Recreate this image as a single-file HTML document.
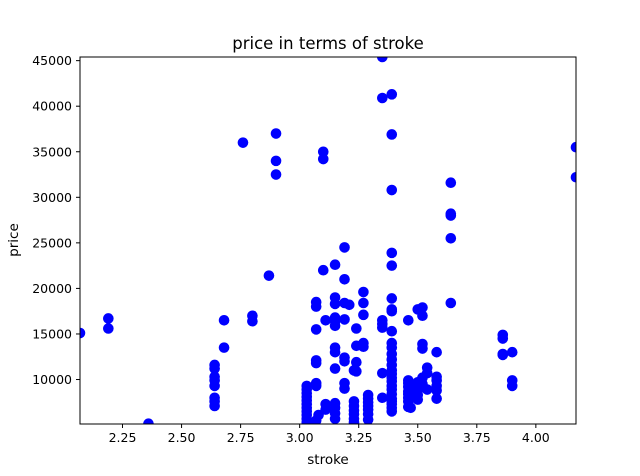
<!DOCTYPE html>
<html><head><meta charset="utf-8"><style>
html,body{margin:0;padding:0;background:#fff;}
svg{display:block;font-family:"DejaVu Sans","Liberation Sans",sans-serif;}
</style></head><body>
<svg id="chart" width="640" height="476" viewBox="0 0 640 476">
<defs><clipPath id="clip"><rect x="80" y="57" width="496" height="367"/></clipPath></defs>
<rect x="0" y="0" width="640" height="476" fill="#fff"/>
<text x="328" y="49" font-size="16.5" text-anchor="middle" fill="#000">price in terms of stroke</text>
<g id="points" clip-path="url(#clip)"></g>
<g id="axes"></g>
<rect x="80" y="57" width="496" height="367" fill="none" stroke="#000" stroke-width="1"/>
<text x="328" y="464" font-size="13.5" text-anchor="middle">stroke</text>
<text x="18" y="240" font-size="13.5" text-anchor="middle" transform="rotate(-90 18 240)">price</text>
</svg>
<script>
const xTicks = [2.25, 2.50, 2.75, 3.00, 3.25, 3.50, 3.75, 4.00];
const xTickLabels = ["2.25","2.50","2.75","3.00","3.25","3.50","3.75","4.00"];
const yTicks = [10000, 15000, 20000, 25000, 30000, 35000, 40000, 45000];
const yTickLabels = ["10000","15000","20000","25000","30000","35000","40000","45000"];
const strokes = [
2.07,2.19,2.19,2.36,
2.64,2.64,2.64,2.64,2.64,2.64,2.64,2.64,
2.68,2.68,2.76,2.80,2.80,2.87,2.90,2.90,2.90,
3.03,3.03,3.03,3.03,3.03,3.03,3.03,3.03,3.03,3.03,3.03,
3.07,3.07,3.07,3.07,3.07,3.07,3.07,3.07,3.08,
3.10,3.10,3.10,3.11,3.11,3.11,
3.15,3.15,3.15,3.15,3.15,3.15,3.15,3.15,3.15,3.15,3.15,3.15,3.15,
3.19,3.19,3.19,3.19,3.19,3.19,3.19,3.19,3.21,
3.23,3.23,3.23,3.23,3.23,3.23,3.23,
3.24,3.24,3.24,3.24,
3.27,3.27,3.27,3.27,3.27,
3.29,3.29,3.29,3.29,3.29,3.29,3.29,
3.35,3.35,3.35,3.35,3.35,3.35,3.35,
3.39,3.39,3.39,3.39,3.39,3.39,3.39,3.39,3.39,3.39,3.39,3.39,3.39,3.39,3.39,3.39,3.39,3.39,3.39,3.39,3.39,3.39,3.39,3.39,3.39,3.39,
3.46,3.46,3.46,3.46,3.46,3.46,3.46,3.46,3.46,3.47,
3.50,3.50,3.50,3.50,3.50,3.50,
3.52,3.52,3.52,3.52,3.52,3.52,
3.54,3.54,3.54,
3.58,3.58,3.58,3.58,3.58,3.58,
3.64,3.64,3.64,3.64,3.64,
3.86,3.86,3.86,3.86,
3.90,3.90,3.90,
4.17,4.17];
const prices = [
15100,16700,15600,5150,
11600,11200,10300,9900,9300,8000,7600,7100,
16500,13500,36000,17000,16400,21400,37000,34000,32500,
9300,8900,8500,8100,7700,7300,6900,6500,6100,5700,5300,
18500,18000,15500,12100,11800,9600,9300,5500,6100,
35000,34200,22000,16500,7300,6700,
22600,19000,18300,16800,16400,15900,13500,13000,11200,7400,6900,6300,5700,
24500,21000,18400,16600,12400,12000,9600,9000,18200,
11000,7600,7100,6600,6200,5700,5300,
15600,13700,11900,10900,
19600,18400,17100,14000,13600,
8300,7900,7500,7100,6700,6200,5600,
45400,40900,16500,16100,15700,10700,8000,
41300,36900,30800,23900,22500,18900,17700,17500,15300,14000,13500,12800,12200,11600,11000,10600,10200,9800,9300,8900,8400,7900,7600,7300,6900,6500,
16500,9900,9600,9200,8700,8400,8000,7600,7000,6900,
17700,9700,9300,8800,8300,7800,
17900,17000,13900,13400,10200,9500,
11300,10700,8900,
13000,10300,9900,9300,8800,7900,
31600,28200,28000,25500,18400,
14900,14500,12800,12700,
13000,9900,9300,
35500,32200];

const X0=80, X1=576, Y0=424, Y1=57;
const xMin=2.07, xMax=4.17, yMin=5118, yMax=45400;
function xs(v){return X0+(v-xMin)/(xMax-xMin)*(X1-X0);}
function ys(v){return Y0-(v-yMin)/(yMax-yMin)*(Y0-Y1);}
const NS="http://www.w3.org/2000/svg";
const pg=document.getElementById('points');
for(let i=0;i<strokes.length;i++){
  const c=document.createElementNS(NS,'circle');
  c.setAttribute('cx',xs(strokes[i]));
  c.setAttribute('cy',ys(prices[i]));
  c.setAttribute('r',5.3);
  c.setAttribute('fill','#0000ff');
  
  
  pg.appendChild(c);
}
const ax=document.getElementById('axes');
xTicks.forEach((t,i)=>{
  const x=xs(t);
  const l=document.createElementNS(NS,'line');
  l.setAttribute('x1',x);l.setAttribute('x2',x);l.setAttribute('y1',424);l.setAttribute('y2',428);
  l.setAttribute('stroke','#000');
  
  
  ax.appendChild(l);
  const tx=document.createElementNS(NS,'text');
  tx.setAttribute('x',x);tx.setAttribute('y',442);tx.setAttribute('font-size','12.5');tx.setAttribute('text-anchor','middle');
  tx.textContent=xTickLabels[i];
  
  
  ax.appendChild(tx);
});
yTicks.forEach((t,i)=>{
  const y=ys(t);
  const l=document.createElementNS(NS,'line');
  l.setAttribute('x1',76);l.setAttribute('x2',80);l.setAttribute('y1',y);l.setAttribute('y2',y);
  l.setAttribute('stroke','#000');
  
  
  ax.appendChild(l);
  const tx=document.createElementNS(NS,'text');
  tx.setAttribute('x',72);tx.setAttribute('y',y+4.5);tx.setAttribute('font-size','12.5');tx.setAttribute('text-anchor','end');
  tx.textContent=yTickLabels[i];
  
  
  ax.appendChild(tx);
});
</script>
</body></html>
